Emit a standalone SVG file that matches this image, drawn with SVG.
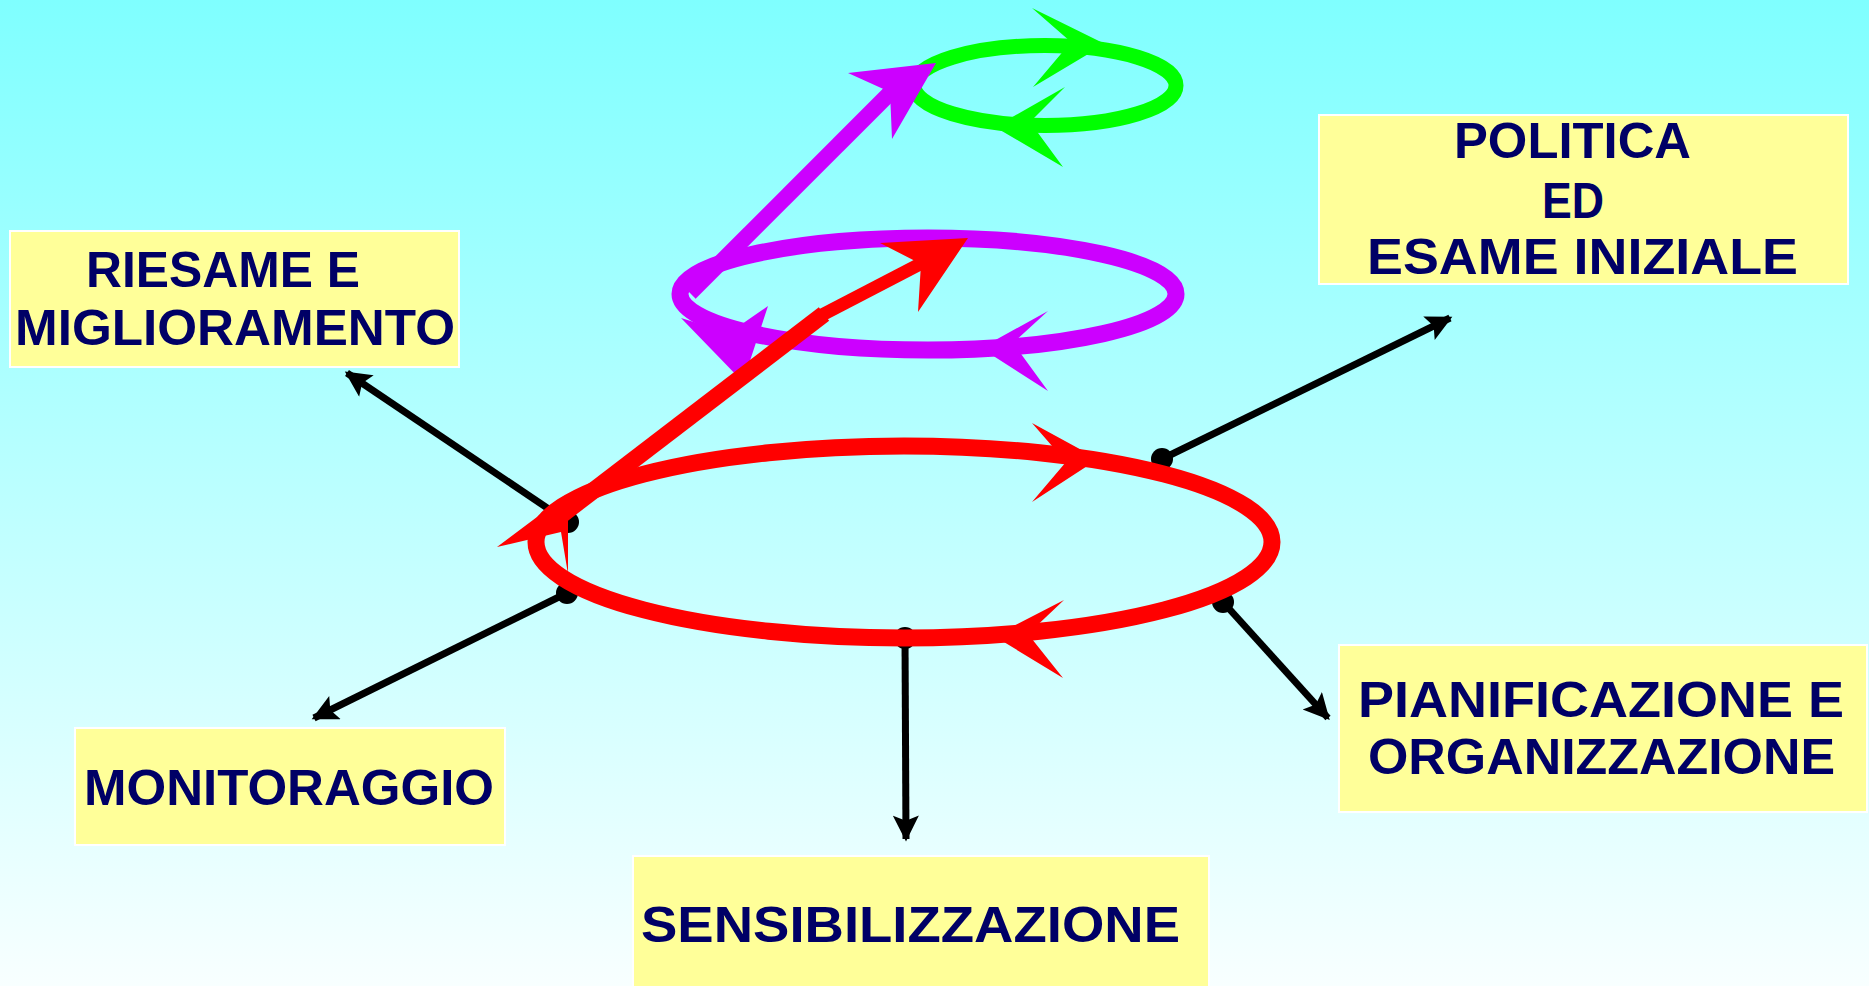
<svg xmlns="http://www.w3.org/2000/svg" width="1869" height="986" viewBox="0 0 1869 986">
<defs>
<linearGradient id="bg" x1="0" y1="0" x2="0" y2="1">
<stop offset="0" stop-color="#7FFFFF"/>
<stop offset="1" stop-color="#F8FFFF"/>
</linearGradient>
<marker id="ah" viewBox="0 0 10 10" refX="9" refY="5" markerUnits="userSpaceOnUse" markerWidth="30" markerHeight="26" orient="auto">
<path d="M0,0 L10,5 L0,10 L2,5 Z" fill="#000"/>
</marker>
<style>
.box{fill:#FFFF99;stroke:#FFFFFF;stroke-width:2}
.t{font-family:"Liberation Sans","DejaVu Sans",sans-serif;font-weight:bold;font-size:50px;fill:#000066}
.con{stroke:#000;stroke-width:7;fill:none;marker-end:url(#ah)}
.dot{fill:#000}
.red{stroke:#FF0000;fill:none}
.pur{stroke:#CC00FF;fill:none}
.grn{stroke:#00FF00;fill:none}
</style>
</defs>
<rect x="0" y="0" width="1869" height="986" fill="url(#bg)"/>

<g id="node-riesame">
<rect class="box" x="10" y="231" width="449" height="136"/>
<text class="t" x="86" y="287" textLength="274" lengthAdjust="spacingAndGlyphs">RIESAME E</text>
<text class="t" x="15" y="345" textLength="440" lengthAdjust="spacingAndGlyphs">MIGLIORAMENTO</text>
</g>
<g id="node-politica">
<rect class="box" x="1319" y="115" width="529" height="169"/>
<text class="t" x="1454" y="158" textLength="237" lengthAdjust="spacingAndGlyphs">POLITICA</text>
<text class="t" x="1542" y="218" textLength="62" lengthAdjust="spacingAndGlyphs">ED</text>
<text class="t" x="1367" y="274" textLength="431" lengthAdjust="spacingAndGlyphs">ESAME INIZIALE</text>
</g>
<g id="node-pianificazione">
<rect class="box" x="1339" y="645" width="528" height="167"/>
<text class="t" x="1358" y="717" textLength="486" lengthAdjust="spacingAndGlyphs">PIANIFICAZIONE E</text>
<text class="t" x="1368" y="774" textLength="467" lengthAdjust="spacingAndGlyphs">ORGANIZZAZIONE</text>
</g>
<g id="node-monitoraggio">
<rect class="box" x="75" y="728" width="430" height="117"/>
<text class="t" x="84" y="805" textLength="410" lengthAdjust="spacingAndGlyphs">MONITORAGGIO</text>
</g>
<g id="node-sensibilizzazione">
<rect class="box" x="633" y="856" width="576" height="132"/>
<text class="t" x="641" y="942" textLength="539" lengthAdjust="spacingAndGlyphs">SENSIBILIZZAZIONE</text>
</g>

<g id="connectors">
<line class="con" x1="568" y1="522" x2="347" y2="373"/>
<circle class="dot" cx="568" cy="522" r="11"/>
<line class="con" x1="567" y1="593" x2="314" y2="718"/>
<circle class="dot" cx="567" cy="593" r="11"/>
<line class="con" x1="905" y1="638" x2="906" y2="839"/>
<circle class="dot" cx="905" cy="638" r="11"/>
<line class="con" x1="1223" y1="602" x2="1328" y2="718"/>
<circle class="dot" cx="1223" cy="602" r="11"/>
<line class="con" x1="1162" y1="459" x2="1450" y2="318"/>
<circle class="dot" cx="1162" cy="459" r="11"/>
</g>

<g id="spiral">
<ellipse class="grn" cx="1045" cy="85.5" rx="131" ry="40" stroke-width="15"/>
<polygon fill="#00FF00" points="1105,44 1032,8 1071,42 1033,87"/>
<polygon fill="#00FF00" points="995,127 1065,87 1030,122 1063,167"/>

<ellipse class="pur" cx="928" cy="294" rx="248" ry="56" stroke-width="17"/>
<line class="pur" x1="690" y1="293" x2="891" y2="92" stroke-width="16"/>
<polygon fill="#CC00FF" points="936,63 848,73 890,92 892,139"/>
<polygon fill="#CC00FF" points="981,348 1048,311 1013,343 1048,391"/>
<polygon fill="#CC00FF" points="743,382 681,318 729,333 768,306"/>

<ellipse class="red" cx="904" cy="542" rx="368" ry="96" stroke-width="17"/>
<line class="red" x1="555" y1="520" x2="824" y2="314" stroke-width="17"/>
<line class="red" x1="820" y1="316" x2="922" y2="263" stroke-width="13"/>
<polygon fill="#FF0000" points="968,238 880,243 921,264 918,312"/>
<polygon fill="#FF0000" points="1098,459 1032,423 1066,462 1032,502"/>
<polygon fill="#FF0000" points="994,636 1064,600 1028,634 1063,678"/>
<polygon fill="#FF0000" points="497,547 545,511 568,509 568,574 561,532"/>
</g>
</svg>
